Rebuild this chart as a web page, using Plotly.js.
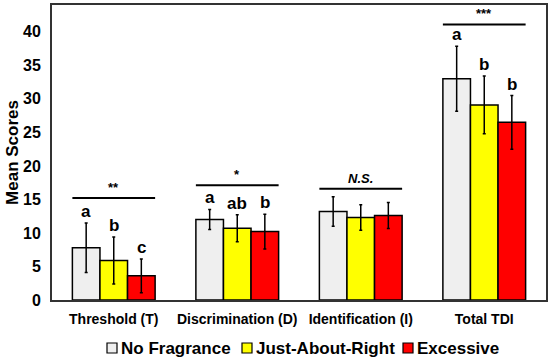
<!DOCTYPE html>
<html><head><meta charset="utf-8">
<script src="https://cdn.plot.ly/plotly-3.0.1.min.js"></script>
<style>html,body{margin:0;padding:0;background:#fff}#chart{width:550px;height:361px}</style>
</head><body><div id="chart"></div>
<script>
const categories = ["Threshold (T)", "Discrimination (D)", "Identification (I)", "Total TDI"];
const seriesNames = ["No Fragrance", "Just-About-Right", "Excessive"];
const noFragrance = [7.8, 12.0, 13.2, 33.0];
const noFragranceErr = [3.7, 1.5, 2.2, 4.85];
const justAboutRight = [5.9, 10.7, 12.3, 29.1];
const justAboutRightErr = [3.5, 2.0, 1.9, 4.3];
const excessive = [3.6, 10.2, 12.6, 26.5];
const excessiveErr = [2.5, 2.6, 1.95, 4.0];
const letters = [["a","b","c"],["a","ab","b"],["","",""],["a","b","b"]];
const sigLabels = ["**", "*", "<i>N.S.</i>", "***"];
const sigLevels = [15.2, 17.1, 16.6, 41.1];
const colors = ["#efefef", "#ffff00", "#ff0000"];

const values = [noFragrance, justAboutRight, excessive];
const errs = [noFragranceErr, justAboutRightErr, excessiveErr];
const font = {family: "Liberation Sans, Arial, sans-serif", color: "#000", weight: "bold"};

const M = {l: 52, r: 4, t: 5, b: 61};
const W = 550, H = 361;
const pw = W - M.l - M.r, ph = H - M.t - M.b;
const px2x = p => (p - M.l) / pw;
const py2y = p => (H - M.b - p) / ph;

const traces = values.map((v, s) => ({
  type: "bar", name: seriesNames[s], x: categories, y: v,
  marker: {color: colors[s], line: {color: "#000", width: 1.5}},
  error_y: {type: "data", array: errs[s], visible: true, color: "#000", thickness: 1.5, width: 1.5}
}));

const bargap = 0.33;
const groupW = 1 - bargap;
const barW = groupW / 3;
const shapes = [];
const annotations = [];
categories.forEach((c, i) => {
  shapes.push({type: "line", xref: "x", yref: "y", x0: i - groupW/2, x1: i + groupW/2,
    y0: sigLevels[i], y1: sigLevels[i], line: {color: "#000", width: 2}});
  annotations.push({xref: "x", yref: "y", x: i, y: sigLevels[i], yanchor: "bottom", yshift: 1,
    text: sigLabels[i], showarrow: false, font: Object.assign({}, font, {size: 13})});
  for (let s = 0; s < 3; s++) {
    if (!letters[i][s]) continue;
    annotations.push({xref: "x", yref: "y", x: i + (s - 1) * barW, y: values[s][i] + errs[s][i],
      yanchor: "bottom", yshift: 0, text: letters[i][s], showarrow: false,
      font: Object.assign({}, font, {size: 17})});
  }
});

// custom legend (small squares close to the text)
const legendX = [107, 242, 403];
const legendY = 348;
seriesNames.forEach((n, s) => {
  shapes.push({type: "rect", xref: "paper", yref: "paper",
    x0: px2x(legendX[s]), x1: px2x(legendX[s] + 10), y0: py2y(legendY + 5), y1: py2y(legendY - 5),
    fillcolor: colors[s], line: {color: "#000", width: 1.2}});
  annotations.push({xref: "paper", yref: "paper", x: px2x(legendX[s] + 12), y: py2y(legendY),
    xanchor: "left", yanchor: "middle", text: n, showarrow: false,
    font: Object.assign({}, font, {size: 17})});
});

const layout = {
  width: W, height: H,
  margin: Object.assign({autoexpand: false}, M),
  paper_bgcolor: "#fff", plot_bgcolor: "#fff",
  barmode: "group", bargap: bargap, bargroupgap: 0,
  showlegend: false,
  xaxis: {type: "category", showline: true, mirror: true, linecolor: "#333", linewidth: 2,
    ticks: "", showgrid: false, tickfont: Object.assign({}, font, {size: 14}), range: [-0.5, 3.5],
    ticklabelstandoff: 5},
  yaxis: {range: [0, 44], showline: true, mirror: true, linecolor: "#333", linewidth: 2,
    ticks: "", showgrid: false, zeroline: false, dtick: 5, tick0: 0,
    tickfont: Object.assign({}, font, {size: 16}), ticklabelstandoff: 6,
    title: {text: "Mean Scores", font: Object.assign({}, font, {size: 17}), standoff: 0}},
  shapes: shapes, annotations: annotations
};
Plotly.newPlot("chart", traces, layout, {displayModeBar: false});
</script></body></html>
